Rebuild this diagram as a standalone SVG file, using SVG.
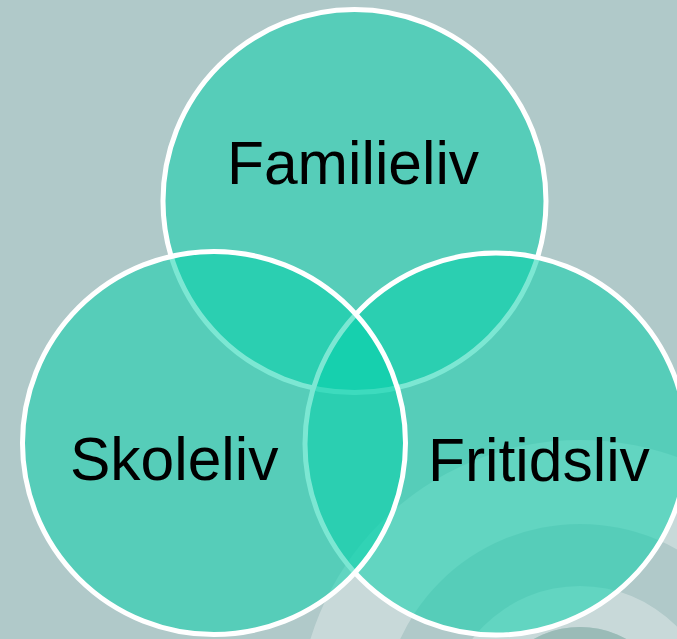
<svg xmlns="http://www.w3.org/2000/svg" width="677" height="639" viewBox="0 0 677 639">
  <style>
    .set { fill: #03D1AA; fill-opacity: 0.52; stroke: #ffffff; stroke-width: 5; }
    .lbl { font-family: "Liberation Sans", Arial, sans-serif; font-size: 60.5px; fill: #000000; }
  </style>
  <defs>
    <clipPath id="page"><rect x="0" y="0" width="677" height="639"/></clipPath>
  </defs>
  <g id="background" clip-path="url(#page)">
    <rect x="0" y="0" width="677" height="639" fill="#B0C9C9"/>
    <path fill="#ffffff" fill-opacity="0.3" fill-rule="evenodd" d="M298,722 a282,282 0 1,0 564,0 a282,282 0 1,0 -564,0 Z M382,722 a198,198 0 1,0 396,0 a198,198 0 1,0 -396,0 Z"/>
    <path fill="#ffffff" fill-opacity="0.3" fill-rule="evenodd" d="M444,722 a136,136 0 1,0 272,0 a136,136 0 1,0 -272,0 Z M485,722 a95,95 0 1,0 190,0 a95,95 0 1,0 -190,0 Z"/>
    <circle cx="580" cy="722" r="95" fill="#9ABBB7"/>
  </g>
  <g id="connectors"></g>
  <g id="node-familieliv">
    <circle class="set" cx="354.5" cy="201" r="191.5"/>
  </g>
  <g id="node-fritidsliv">
    <circle class="set" cx="496" cy="444" r="191"/>
  </g>
  <g id="node-skoleliv">
    <circle class="set" cx="214" cy="443" r="191.5"/>
  </g>
  <g id="labels">
    <text class="lbl" x="227" y="184">Familieliv</text>
    <text class="lbl" x="70" y="480">Skoleliv</text>
    <text class="lbl" x="428" y="481">Fritidsliv</text>
  </g>
</svg>
